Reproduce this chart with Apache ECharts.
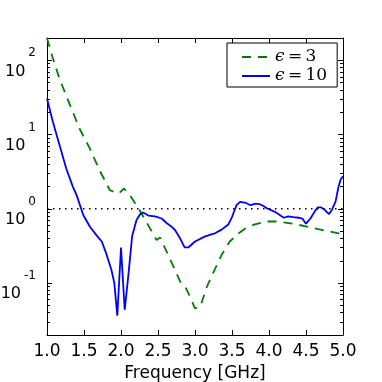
<!DOCTYPE html>
<html>
<head>
<meta charset="utf-8">
<script src="https://cdn.jsdelivr.net/npm/echarts@6/dist/echarts.min.js"></script>
<style>
  html, body { margin: 0; padding: 0; background: #fff; }
  #chart { width: 382px; height: 382px; }
</style>
</head>
<body>
<div id="chart"></div>
<script>
// eps = 10 (blue solid)
const freqBlue = [1.00, 1.08, 1.17, 1.26, 1.35, 1.40, 1.49, 1.58, 1.67, 1.74, 1.80, 1.87, 1.91, 1.95, 2.00, 2.05, 2.10, 2.15, 2.21, 2.26, 2.30, 2.37, 2.46, 2.55, 2.62, 2.68, 2.73, 2.80, 2.86, 2.91, 3.00, 3.13, 3.23, 3.27, 3.36, 3.45, 3.50, 3.56, 3.61, 3.69, 3.75, 3.81, 3.86, 3.92, 3.97, 4.08, 4.17, 4.20, 4.26, 4.33, 4.40, 4.45, 4.50, 4.56, 4.62, 4.66, 4.70, 4.75, 4.81, 4.85, 4.90, 4.94, 4.97, 5.00]
const valBlue = [30.5, 14.8, 7.19, 3.50, 1.98, 1.53, 0.826, 0.575, 0.440, 0.363, 0.251, 0.151, 0.100, 0.0363, 0.302, 0.0437, 0.129, 0.427, 0.708, 0.851, 0.891, 0.813, 0.794, 0.741, 0.640, 0.580, 0.519, 0.398, 0.302, 0.302, 0.363, 0.422, 0.457, 0.468, 0.525, 0.617, 0.776, 1.12, 1.24, 1.20, 1.12, 1.17, 1.17, 1.10, 1.02, 0.912, 0.794, 0.759, 0.794, 0.776, 0.759, 0.741, 0.631, 0.741, 0.933, 1.05, 1.05, 0.977, 0.851, 0.966, 1.26, 2.00, 2.51, 2.75]

// eps = 3 (green dashed)
const freqGreen = [1.00, 1.06, 1.17, 1.31, 1.44, 1.58, 1.71, 1.85, 1.97, 2.04, 2.12, 2.25, 2.39, 2.48, 2.53, 2.66, 2.80, 2.87, 2.93, 3.00, 3.07, 3.16, 3.25, 3.36, 3.47, 3.59, 3.70, 3.81, 3.95, 4.11, 4.33, 4.60, 4.94, 5.00]
const valGreen = [200, 123, 56.2, 25.1, 12.0, 6.46, 3.31, 1.78, 1.60, 1.88, 1.53, 0.964, 0.550, 0.380, 0.410, 0.214, 0.105, 0.0891, 0.0661, 0.0457, 0.0479, 0.0891, 0.141, 0.240, 0.363, 0.468, 0.562, 0.617, 0.676, 0.676, 0.631, 0.550, 0.468, 0.457]

const xTicks = [1.0, 1.5, 2.0, 2.5, 3.0, 3.5, 4.0, 4.5, 5.0]
const yMin = 0.02
const yMax = 200

// minor tick positions on the log axis (2..9 per decade), in log10 space
const minorLogs = []
for (let n = -2; n <= 2; n++) {
  for (let k = 2; k <= 9; k++) {
    const v = k * Math.pow(10, n)
    if (v > yMin && v < yMax) minorLogs.push(Math.log10(v))
  }
}

const font = 'DejaVu Sans'
const zip = (xs, ys) => xs.map((x, i) => [x, ys[i]])

const chart = echarts.init(document.getElementById('chart'), null, { renderer: 'canvas' })

const xBase = {
  type: 'value',
  min: xTicks[0],
  max: xTicks[xTicks.length - 1],
  interval: 0.5,
  splitLine: { show: false },
  axisLine: { show: true, onZero: false, lineStyle: { color: '#000', width: 1 } },
  axisTick: { show: true, inside: true, length: 5, lineStyle: { color: '#000' } }
}

const yLogBase = {
  type: 'log',
  logBase: 10,
  min: yMin,
  max: yMax,
  splitLine: { show: false },
  axisLine: { show: true, onZero: false, lineStyle: { color: '#000', width: 1 } },
  axisTick: { show: true, inside: true, length: 5, lineStyle: { color: '#000' } }
}

const yMinorBase = {
  type: 'value',
  min: Math.log10(yMin),
  max: Math.log10(yMax),
  splitLine: { show: false },
  axisLine: { show: false, onZero: false },
  axisLabel: { show: false },
  axisTick: { show: true, inside: true, length: 3, customValues: minorLogs, lineStyle: { color: '#000' } }
}

chart.setOption({
  animation: false,
  backgroundColor: '#fff',
  grid: { left: 47, right: 39, top: 38, bottom: 47, outerBoundsMode: 'none' },
  legend: {
    data: ['ϵ=3', 'ϵ=10'],
    orient: 'vertical',
    left: 227,
    top: 43,
    padding: [5, 10, 2, 14],
    itemWidth: 28,
    itemHeight: 14,
    itemGap: 1,
    borderColor: '#000',
    borderWidth: 1,
    backgroundColor: '#fff',
    itemStyle: { opacity: 0 },
    formatter: name => '{i|ϵ}{n|\u2009=\u2009' + name.split('=')[1] + '}',
    textStyle: {
      lineHeight: 18,
      rich: {
        i: { fontFamily: 'DejaVu Serif', fontStyle: 'italic', fontSize: 17, color: '#000' },
        n: { fontFamily: 'DejaVu Serif', fontSize: 17, color: '#000' }
      }
    }
  },
  xAxis: [
    Object.assign({}, xBase, {
      position: 'bottom',
      name: 'Frequency [GHz]',
      nameLocation: 'middle',
      nameGap: 28,
      nameTextStyle: { fontFamily: font, fontSize: 17, color: '#000' },
      axisLabel: {
        margin: 8,
        fontFamily: font,
        fontSize: 17,
        color: '#000',
        formatter: v => v.toFixed(1)
      }
    }),
    Object.assign({}, xBase, { position: 'top', axisLabel: { show: false } })
  ],
  yAxis: [
    Object.assign({}, yLogBase, {
      position: 'left',
      axisLabel: {
        margin: 11,
        color: '#000',
        padding: [6, 0, 0, 0],
        formatter: v => {
          const e = Math.log10(v)
          const r = Math.round(e)
          if (Math.abs(e - r) > 1e-6) return ''
          return '{b|10}{e|' + r + '}'
        },
        rich: {
          b: { fontFamily: font, fontSize: 16, lineHeight: 32, verticalAlign: 'bottom', color: '#000' },
          e: { fontFamily: font, fontSize: 12, lineHeight: 12, verticalAlign: 'top', color: '#000', padding: [0, 0, 0, 3] }
        }
      }
    }),
    Object.assign({}, yMinorBase, { position: 'left' }),
    Object.assign({}, yLogBase, { position: 'right', axisLabel: { show: false } }),
    Object.assign({}, yMinorBase, { position: 'right' })
  ],
  series: [
    {
      name: 'ϵ=3',
      type: 'line',
      data: zip(freqGreen, valGreen),
      symbol: 'none',
      clip: true,
      color: '#008000',
      lineStyle: { color: '#008000', width: 1.8, type: [9, 7] }
    },
    {
      name: 'ϵ=10',
      type: 'line',
      data: zip(freqBlue, valBlue),
      symbol: 'none',
      clip: true,
      color: '#0000ff',
      lineStyle: { color: '#0000ff', width: 1.8 }
    },
    {
      name: 'unity',
      type: 'line',
      data: [[xTicks[0], 1], [xTicks[xTicks.length - 1], 1]],
      symbol: 'none',
      silent: true,
      color: '#000',
      lineStyle: { color: '#000', width: 1.5, type: [1.5, 4.5] }
    }
  ]
})
</script>
</body>
</html>
